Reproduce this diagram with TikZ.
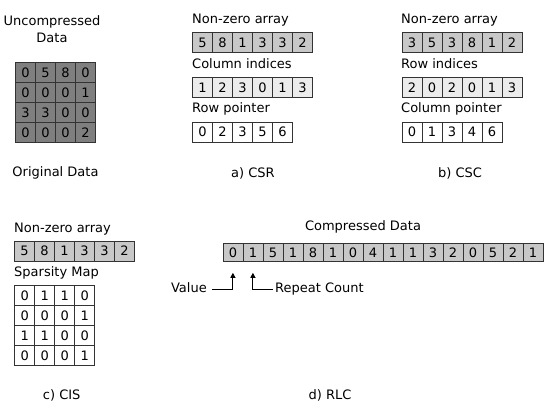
\documentclass[tikz,border=0pt]{standalone}
\usepackage{fontspec}
\setmainfont{DejaVu Sans}
\usetikzlibrary{arrows.meta}
\definecolor{darkcell}{HTML}{7F7F7F}
\definecolor{midcell}{HTML}{C8C8C8}
\definecolor{lightcell}{HTML}{ECECEC}
\newcommand\cellrow[6]{%
  \foreach \v [count=\i from 0] in {#6} {%
    \node[cell, fill=#5, minimum height=#4pt] (#1-\i) at ({#2+20*\i},#3) {\v};
  }%
}
\begin{document}
\begin{tikzpicture}[x=1pt,y=-1pt,
  font=\fontsize{13}{15}\selectfont,
  cell/.style={draw=black!80, line width=0.8pt, minimum width=20pt,
    inner sep=0pt, anchor=north west},
  lbl/.style={anchor=base west, inner sep=0pt},
  captext/.style={anchor=base, inner sep=0pt},
  pointer/.style={line width=1pt, -{Triangle[length=5pt,width=5pt]}}]
\useasboundingbox (0,0) rectangle (550,407);

% Uncompressed data
\node[captext] (unc1) at (52,25.7) {Uncompressed};
\node[captext] (unc2) at (52,42.3) {Data};
\cellrow{oa}{15}{62}{20}{darkcell}{0,5,8,0}
\cellrow{ob}{15}{82}{20}{darkcell}{0,0,0,1}
\cellrow{oc}{15}{102}{20}{darkcell}{3,3,0,0}
\cellrow{od}{15}{122}{20}{darkcell}{0,0,0,2}
\node[captext] (orig) at (55.5,176.7) {Original Data};

% CSR
\node[lbl] (csrl1) at (192,23.8) {Non-zero array};
\cellrow{csra}{192}{32.3}{20}{midcell}{5,8,1,3,3,2}
\node[lbl] (csrl2) at (192,68.3) {Column indices};
\cellrow{csrb}{192}{77.3}{20}{lightcell}{1,2,3,0,1,3}
\node[lbl] (csrl3) at (192,112.7) {Row pointer};
\cellrow{csrc}{192}{121.7}{20}{white}{0,2,3,5,6}
\node[captext] (csrcap) at (253,177.7) {a) CSR};

% CSC
\node[lbl] (cscl1) at (401,23.8) {Non-zero array};
\cellrow{csca}{401.5}{32.3}{20}{midcell}{3,5,3,8,1,2}
\node[lbl] (cscl2) at (401,68.3) {Row indices};
\cellrow{cscb}{401.5}{77.3}{20}{lightcell}{2,0,2,0,1,3}
\node[lbl] (cscl3) at (401,112.7) {Column pointer};
\cellrow{cscc}{401.5}{121.7}{20}{white}{0,1,3,4,6}
\node[captext] (csccap) at (460,177.7) {b) CSC};

% CIS
\node[lbl] (cisl1) at (14,232.3) {Non-zero array};
\cellrow{cisa}{14}{240.7}{20}{midcell}{5,8,1,3,3,2}
\node[lbl] (cisl2) at (14,276) {Sparsity Map};
\cellrow{sma}{14.3}{285}{20}{white}{0,1,1,0}
\cellrow{smb}{14.3}{305}{20}{white}{0,0,0,1}
\cellrow{smc}{14.3}{325}{20}{white}{1,1,0,0}
\cellrow{smd}{14.3}{345}{20}{white}{0,0,0,1}
\node[captext] (ciscap) at (61.7,399.3) {c) CIS};

% RLC
\node[captext] (rlcl) at (363,230.7) {Compressed Data};
\cellrow{rlc}{222.5}{243}{18}{midcell}{0,1,5,1,8,1,0,4,1,1,3,2,0,5,2,1}
\node[anchor=base east, inner sep=0pt] (val) at (207,292) {Value};
\node[lbl] (rep) at (275,292) {Repeat Count};
\coordinate (vstart) at (212,289);
\coordinate (rstart) at (273,289);
\draw[pointer] (vstart) -| ([yshift=-11pt]rlc-0.south);
\draw[pointer] (rstart) -| ([yshift=-11pt]rlc-1.south);
\node[captext] (rlccap) at (330,399.3) {d) RLC};
\end{tikzpicture}
\end{document}
